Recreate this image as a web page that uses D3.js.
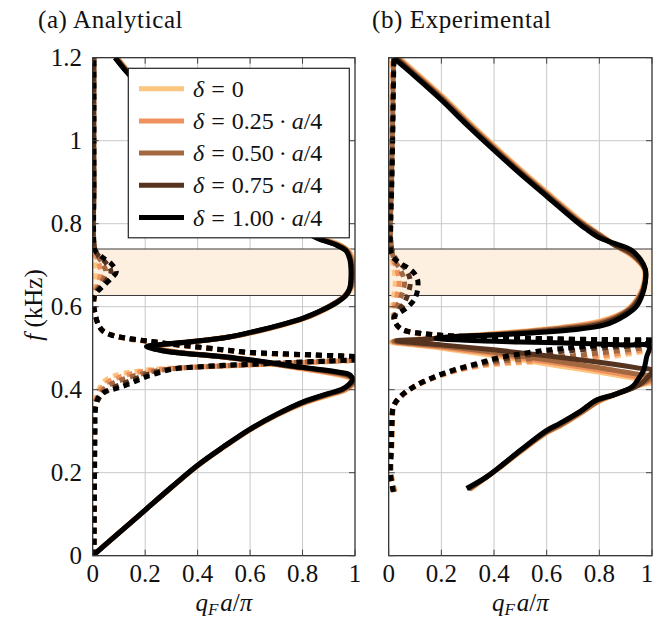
<!DOCTYPE html>
<html><head><meta charset="utf-8">
<script src="https://cdn.jsdelivr.net/npm/d3@7"></script>
<style>body{margin:0;background:#fff}svg{display:block}text{font-family:"Liberation Serif","Times New Roman",serif;fill:#111}</style>
</head><body><svg id="c" width="655" height="620"></svg>
<script>
// ---------------- data ----------------
const deltaLabels = ["0", "0.25", "0.50", "0.75", "1.00"];
const deltaColors = ["#fdc680", "#ef915e", "#a3683f", "#56331f", "#000000"];
const xTicks = [0, 0.2, 0.4, 0.6, 0.8, 1];
const xTickLabels = ["0", "0.2", "0.4", "0.6", "0.8", "1"];
const yTicks = [0, 0.2, 0.4, 0.6, 0.8, 1, 1.2];
const yTickLabels = ["0", "0.2", "0.4", "0.6", "0.8", "1", "1.2"];
const bandGap = [0.627, 0.739];
const panelTitles = ["(a) Analytical", "(b) Experimental"];

// Panel (a) analytical: solid (real part) per delta
const anaSolid0 = [[0,0],[0.1,0.055],[0.2,0.11],[0.3,0.164],[0.4,0.216],[0.5,0.262],[0.6,0.303],[0.7,0.338],[0.8,0.366],[0.9,0.386],[0.96,0.398],[0.99,0.41],[1,0.42],[0.97,0.43],[0.9,0.44],[0.8,0.45],[0.7,0.46],[0.58,0.472],[0.45,0.482],[0.33,0.49],[0.26,0.498],[0.23,0.505],[0.3,0.511],[0.42,0.519],[0.55,0.53],[0.66,0.545],[0.76,0.562],[0.85,0.582],[0.92,0.605],[0.97,0.63],[0.995,0.655],[1,0.68],[0.995,0.71],[0.975,0.735],[0.94,0.75],[0.86,0.768],[0.76,0.803],[0.66,0.85],[0.51,0.928],[0.36,1.018],[0.21,1.116],[0.14,1.164],[0.095,1.2]];
const anaSolid1 = [[0,0],[0.1,0.055],[0.2,0.11],[0.3,0.164],[0.4,0.217],[0.5,0.262],[0.6,0.304],[0.7,0.339],[0.8,0.367],[0.9,0.388],[0.96,0.399],[0.99,0.412],[1,0.422],[0.97,0.432],[0.9,0.441],[0.8,0.451],[0.7,0.461],[0.57,0.473],[0.44,0.483],[0.32,0.49],[0.25,0.498],[0.22,0.505],[0.29,0.51],[0.41,0.518],[0.54,0.529],[0.65,0.544],[0.75,0.561],[0.84,0.58],[0.91,0.604],[0.965,0.629],[0.99,0.655],[0.995,0.68],[0.99,0.712],[0.972,0.735],[0.938,0.749],[0.858,0.767],[0.757,0.804],[0.657,0.851],[0.507,0.929],[0.357,1.019],[0.207,1.117],[0.137,1.164],[0.092,1.2]];
const anaSolid2 = [[0,0],[0.1,0.055],[0.2,0.11],[0.3,0.165],[0.4,0.217],[0.5,0.262],[0.6,0.304],[0.7,0.339],[0.8,0.368],[0.9,0.389],[0.955,0.4],[0.985,0.412],[0.997,0.423],[0.975,0.433],[0.92,0.441],[0.82,0.451],[0.72,0.461],[0.57,0.474],[0.43,0.483],[0.31,0.49],[0.245,0.497],[0.215,0.504],[0.28,0.51],[0.4,0.517],[0.53,0.528],[0.64,0.543],[0.74,0.56],[0.83,0.578],[0.9,0.6],[0.96,0.626],[0.987,0.652],[0.99,0.68],[0.985,0.713],[0.97,0.735],[0.935,0.749],[0.855,0.767],[0.755,0.804],[0.655,0.851],[0.505,0.929],[0.355,1.019],[0.205,1.117],[0.135,1.165],[0.09,1.2]];
const anaSolid3 = [[0,0],[0.1,0.055],[0.2,0.11],[0.3,0.165],[0.4,0.218],[0.5,0.263],[0.6,0.305],[0.7,0.34],[0.8,0.369],[0.9,0.39],[0.952,0.4],[0.98,0.412],[0.993,0.424],[0.978,0.434],[0.93,0.442],[0.84,0.45],[0.75,0.457],[0.62,0.469],[0.48,0.48],[0.35,0.488],[0.26,0.496],[0.21,0.504],[0.27,0.509],[0.39,0.516],[0.52,0.527],[0.63,0.542],[0.73,0.558],[0.81,0.574],[0.88,0.594],[0.94,0.615],[0.975,0.635],[0.987,0.68],[0.982,0.714],[0.967,0.735],[0.932,0.748],[0.852,0.767],[0.752,0.805],[0.652,0.852],[0.502,0.93],[0.352,1.02],[0.202,1.118],[0.132,1.165],[0.087,1.2]];
const anaSolid4 = [[0,0],[0.1,0.055],[0.2,0.11],[0.3,0.165],[0.4,0.218],[0.5,0.263],[0.6,0.305],[0.7,0.34],[0.8,0.37],[0.9,0.391],[0.95,0.401],[0.975,0.412],[0.99,0.425],[0.98,0.436],[0.94,0.442],[0.85,0.45],[0.77,0.456],[0.68,0.465],[0.55,0.476],[0.42,0.484],[0.3,0.49],[0.24,0.497],[0.205,0.504],[0.26,0.509],[0.38,0.516],[0.52,0.527],[0.62,0.541],[0.72,0.557],[0.8,0.572],[0.87,0.59],[0.93,0.61],[0.965,0.627],[0.98,0.645],[0.985,0.68],[0.98,0.715],[0.965,0.735],[0.93,0.748],[0.85,0.767],[0.75,0.805],[0.65,0.852],[0.5,0.93],[0.35,1.02],[0.2,1.118],[0.13,1.165],[0.085,1.2]];

// Panel (a) analytical: dotted (imaginary part), lower branch
const anaDotLow0 = [[0.005,0],[0.006,0.1],[0.007,0.2],[0.008,0.3],[0.01,0.37],[0.02,0.395],[0.04,0.418],[0.08,0.433],[0.15,0.443],[0.25,0.45],[0.4,0.455],[0.55,0.458],[0.7,0.462],[0.85,0.466],[1,0.47]];
const anaDotLow1 = [[0.005,0],[0.006,0.1],[0.007,0.2],[0.008,0.3],[0.01,0.365],[0.022,0.392],[0.05,0.415],[0.1,0.43],[0.18,0.443],[0.3,0.451],[0.45,0.456],[0.6,0.46],[0.75,0.464],[0.9,0.468],[1,0.471]];
const anaDotLow2 = [[0.005,0],[0.006,0.1],[0.007,0.2],[0.008,0.3],[0.01,0.36],[0.025,0.388],[0.06,0.41],[0.12,0.426],[0.2,0.44],[0.3,0.45],[0.45,0.456],[0.6,0.46],[0.75,0.465],[0.9,0.469],[1,0.471]];
const anaDotLow3 = [[0.005,0],[0.006,0.1],[0.007,0.2],[0.008,0.3],[0.01,0.355],[0.03,0.385],[0.07,0.402],[0.13,0.418],[0.2,0.435],[0.3,0.45],[0.45,0.456],[0.6,0.461],[0.75,0.465],[0.9,0.469],[1,0.472]];
const anaDotLow4 = [[0.005,0],[0.006,0.1],[0.007,0.2],[0.008,0.3],[0.01,0.35],[0.018,0.377],[0.04,0.393],[0.09,0.403],[0.14,0.414],[0.2,0.43],[0.3,0.449],[0.4,0.455],[0.5,0.459],[0.6,0.461],[0.7,0.464],[0.8,0.467],[0.9,0.469],[1,0.472]];

// Panel (a) analytical: dotted, upper branch
const anaDotUp0 = [[1,0.478],[0.84,0.482],[0.7,0.485],[0.59,0.489],[0.5,0.495],[0.4,0.502],[0.3,0.509],[0.2,0.517],[0.12,0.524],[0.07,0.532],[0.035,0.545],[0.018,0.562],[0.008,0.585],[0.004,0.61],[0.005,0.635],[0.01,0.66],[0.012,0.684],[0.01,0.71],[0.005,0.735],[0.004,0.9],[0.004,1.2]];
const anaDotUp1 = [[1,0.479],[0.84,0.483],[0.7,0.486],[0.59,0.489],[0.5,0.495],[0.4,0.502],[0.3,0.509],[0.2,0.517],[0.12,0.524],[0.072,0.532],[0.037,0.543],[0.02,0.559],[0.009,0.583],[0.004,0.608],[0.008,0.635],[0.022,0.658],[0.03,0.684],[0.022,0.708],[0.008,0.732],[0.004,0.9],[0.004,1.2]];
const anaDotUp2 = [[1,0.479],[0.84,0.483],[0.7,0.486],[0.59,0.49],[0.5,0.496],[0.4,0.503],[0.3,0.51],[0.2,0.518],[0.12,0.525],[0.073,0.532],[0.038,0.542],[0.021,0.557],[0.01,0.582],[0.004,0.605],[0.01,0.633],[0.032,0.657],[0.05,0.684],[0.035,0.707],[0.01,0.733],[0.005,0.9],[0.005,1.2]];
const anaDotUp3 = [[1,0.48],[0.84,0.484],[0.7,0.487],[0.59,0.49],[0.5,0.496],[0.4,0.503],[0.3,0.51],[0.2,0.518],[0.12,0.525],[0.074,0.531],[0.039,0.541],[0.022,0.556],[0.01,0.58],[0.004,0.602],[0.01,0.632],[0.042,0.656],[0.07,0.684],[0.05,0.706],[0.012,0.733],[0.005,0.9],[0.005,1.2]];
const anaDotUp4 = [[1,0.48],[0.84,0.484],[0.7,0.487],[0.59,0.49],[0.5,0.496],[0.4,0.503],[0.3,0.51],[0.2,0.518],[0.12,0.525],[0.075,0.531],[0.04,0.541],[0.022,0.556],[0.01,0.58],[0.005,0.6],[0.004,0.618],[0.012,0.632],[0.035,0.647],[0.065,0.665],[0.09,0.684],[0.07,0.704],[0.035,0.72],[0.01,0.735],[0.005,0.75],[0.005,0.9],[0.005,1.05],[0.005,1.2]];

// Panel (b) experimental: solid per delta
const expSolid0 = [[0.04,1.2],[0.12,1.155],[0.22,1.098],[0.32,1.036],[0.42,0.977],[0.52,0.92],[0.62,0.866],[0.72,0.812],[0.8,0.775],[0.87,0.745],[0.93,0.72],[0.97,0.69],[0.97,0.66],[0.95,0.625],[0.9,0.59],[0.8,0.565],[0.65,0.55],[0.45,0.538],[0.25,0.528],[0.1,0.52],[0.01,0.515],[0.2,0.5],[0.4,0.482],[0.6,0.462],[0.8,0.442],[0.95,0.425],[1,0.418],[0.95,0.41],[0.87,0.39],[0.8,0.372],[0.73,0.343],[0.65,0.312],[0.6,0.296],[0.5,0.25],[0.43,0.216],[0.37,0.188],[0.31,0.16]];
const expSolid1 = [[0.035,1.2],[0.115,1.155],[0.215,1.098],[0.315,1.036],[0.415,0.977],[0.515,0.92],[0.615,0.866],[0.715,0.812],[0.795,0.776],[0.865,0.746],[0.93,0.721],[0.972,0.69],[0.972,0.66],[0.952,0.627],[0.905,0.591],[0.805,0.564],[0.655,0.549],[0.455,0.537],[0.255,0.527],[0.1,0.52],[0.015,0.516],[0.2,0.502],[0.4,0.486],[0.6,0.467],[0.8,0.447],[0.95,0.43],[1,0.424],[0.955,0.412],[0.87,0.391],[0.8,0.373],[0.73,0.344],[0.65,0.313],[0.6,0.297],[0.5,0.251],[0.43,0.217],[0.37,0.189],[0.308,0.16]];
const expSolid2 = [[0.03,1.2],[0.11,1.155],[0.21,1.098],[0.31,1.036],[0.41,0.977],[0.51,0.92],[0.61,0.866],[0.71,0.812],[0.79,0.777],[0.86,0.748],[0.925,0.725],[0.973,0.69],[0.973,0.66],[0.957,0.628],[0.91,0.592],[0.81,0.562],[0.66,0.548],[0.46,0.536],[0.26,0.527],[0.1,0.52],[0.02,0.517],[0.2,0.505],[0.4,0.49],[0.6,0.472],[0.8,0.453],[0.95,0.437],[1,0.432],[0.96,0.414],[0.87,0.391],[0.8,0.374],[0.73,0.345],[0.65,0.314],[0.6,0.298],[0.5,0.252],[0.43,0.217],[0.37,0.189],[0.305,0.16]];
const expSolid3 = [[0.025,1.2],[0.105,1.155],[0.205,1.098],[0.305,1.036],[0.405,0.977],[0.505,0.92],[0.605,0.866],[0.705,0.812],[0.785,0.777],[0.855,0.75],[0.92,0.73],[0.974,0.69],[0.974,0.66],[0.96,0.63],[0.92,0.594],[0.815,0.56],[0.67,0.546],[0.46,0.535],[0.26,0.527],[0.12,0.521],[0.03,0.518],[0.2,0.508],[0.4,0.496],[0.6,0.482],[0.8,0.466],[0.95,0.452],[1,0.447],[0.965,0.418],[0.93,0.405],[0.86,0.389],[0.79,0.375],[0.727,0.347],[0.65,0.317],[0.6,0.3],[0.5,0.253],[0.43,0.218],[0.372,0.19],[0.3,0.161]];
const expSolid4 = [[0.017,1.2],[0.1,1.155],[0.2,1.098],[0.3,1.036],[0.4,0.977],[0.5,0.92],[0.6,0.866],[0.7,0.812],[0.75,0.787],[0.8,0.766],[0.86,0.752],[0.92,0.737],[0.955,0.715],[0.975,0.69],[0.975,0.66],[0.965,0.632],[0.94,0.6],[0.9,0.58],[0.82,0.556],[0.69,0.544],[0.44,0.533],[0.25,0.528],[0.18,0.524],[0.3,0.519],[0.5,0.515],[0.7,0.512],[0.9,0.508],[0.99,0.505],[0.98,0.48],[0.968,0.447],[0.945,0.423],[0.925,0.407],[0.853,0.387],[0.79,0.375],[0.727,0.347],[0.65,0.319],[0.6,0.302],[0.5,0.254],[0.43,0.218],[0.372,0.19],[0.296,0.162]];

// Panel (b) experimental: dotted, lower branch
const expDotLow0 = [[0.025,0.154],[0.01,0.198],[0.012,0.263],[0.015,0.32],[0.02,0.36],[0.05,0.385],[0.1,0.408],[0.18,0.43],[0.26,0.446],[0.35,0.457],[0.45,0.463],[0.55,0.466],[0.7,0.471],[0.85,0.48],[1,0.495]];
const expDotLow1 = [[0.023,0.154],[0.009,0.198],[0.011,0.263],[0.014,0.32],[0.019,0.36],[0.048,0.384],[0.098,0.408],[0.177,0.43],[0.255,0.446],[0.345,0.458],[0.44,0.465],[0.55,0.469],[0.7,0.475],[0.85,0.485],[1,0.499]];
const expDotLow2 = [[0.021,0.154],[0.008,0.198],[0.011,0.263],[0.013,0.32],[0.019,0.36],[0.046,0.384],[0.097,0.407],[0.175,0.43],[0.252,0.447],[0.34,0.46],[0.43,0.469],[0.55,0.475],[0.7,0.482],[0.85,0.492],[1,0.503]];
const expDotLow3 = [[0.019,0.154],[0.007,0.198],[0.01,0.263],[0.012,0.32],[0.018,0.36],[0.045,0.383],[0.095,0.407],[0.172,0.43],[0.248,0.447],[0.335,0.461],[0.42,0.473],[0.56,0.486],[0.72,0.496],[0.86,0.503],[1,0.508]];
const expDotLow4 = [[0.017,0.154],[0.006,0.198],[0.01,0.263],[0.012,0.32],[0.018,0.36],[0.043,0.383],[0.094,0.407],[0.17,0.43],[0.245,0.447],[0.33,0.462],[0.41,0.476],[0.56,0.492],[0.75,0.504],[1,0.512]];

// Panel (b) experimental: dotted, upper branch
const expDotUp0 = [[1,0.516],[0.8,0.518],[0.6,0.52],[0.45,0.522],[0.3,0.526],[0.19,0.53],[0.11,0.535],[0.06,0.542],[0.035,0.552],[0.02,0.57],[0.015,0.6],[0.02,0.63],[0.025,0.66],[0.02,0.69],[0.012,0.72],[0.008,0.76],[0.01,0.9],[0.013,1.05],[0.015,1.2]];
const expDotUp1 = [[1,0.517],[0.8,0.519],[0.6,0.521],[0.45,0.523],[0.3,0.527],[0.19,0.531],[0.112,0.535],[0.062,0.542],[0.037,0.551],[0.022,0.567],[0.02,0.595],[0.032,0.627],[0.04,0.66],[0.032,0.688],[0.015,0.718],[0.008,0.76],[0.01,0.9],[0.014,1.05],[0.016,1.2]];
const expDotUp2 = [[1,0.518],[0.8,0.52],[0.6,0.522],[0.45,0.524],[0.3,0.527],[0.195,0.531],[0.115,0.536],[0.065,0.542],[0.04,0.55],[0.023,0.565],[0.025,0.59],[0.045,0.62],[0.06,0.66],[0.045,0.688],[0.02,0.715],[0.008,0.76],[0.011,0.9],[0.015,1.05],[0.018,1.2]];
const expDotUp3 = [[1,0.519],[0.8,0.52],[0.6,0.522],[0.45,0.524],[0.31,0.528],[0.2,0.531],[0.118,0.536],[0.068,0.541],[0.042,0.549],[0.024,0.564],[0.028,0.585],[0.06,0.61],[0.082,0.66],[0.065,0.69],[0.03,0.712],[0.008,0.75],[0.011,0.9],[0.016,1.05],[0.019,1.2]];
const expDotUp4 = [[1,0.52],[0.8,0.521],[0.6,0.523],[0.45,0.525],[0.31,0.528],[0.2,0.531],[0.12,0.536],[0.07,0.541],[0.043,0.548],[0.025,0.562],[0.02,0.576],[0.04,0.585],[0.068,0.597],[0.095,0.615],[0.108,0.635],[0.11,0.664],[0.095,0.682],[0.07,0.695],[0.04,0.706],[0.02,0.716],[0.008,0.735],[0.008,0.8],[0.012,0.9],[0.015,1.0],[0.017,1.1],[0.02,1.2]];

const anaSolid = [anaSolid0, anaSolid1, anaSolid2, anaSolid3, anaSolid4];
const anaDotted = [[anaDotLow0, anaDotUp0], [anaDotLow1, anaDotUp1], [anaDotLow2, anaDotUp2], [anaDotLow3, anaDotUp3], [anaDotLow4, anaDotUp4]];
const expSolid = [expSolid0, expSolid1, expSolid2, expSolid3, expSolid4];
const expDotted = [[expDotLow0, expDotUp0], [expDotLow1, expDotUp1], [expDotLow2, expDotUp2], [expDotLow3, expDotUp3], [expDotLow4, expDotUp4]];

// ---------------- drawing ----------------
const svg = d3.select("#c");
const W = 655;
const yTop = 57.7, yBot = 555.7;
const panels = [
  {x0: 92.7, x1: 355, title: panelTitles[0], solid: anaSolid, dotted: anaDotted, yLabels: true, tx: 38},
  {x0: 388.7, x1: 652, title: panelTitles[1], solid: expSolid, dotted: expDotted, yLabels: false, tx: 372}
];
const y = d3.scaleLinear().domain([0, 1.2]).range([yBot, yTop]);

panels.forEach((p, pi) => {
  const x = d3.scaleLinear().domain([0, 1]).range([p.x0, p.x1]);
  const g = svg.append("g");
  const cid = "clip" + pi;
  svg.append("defs").append("clipPath").attr("id", cid)
    .append("rect").attr("x", p.x0).attr("y", yTop).attr("width", p.x1 - p.x0).attr("height", yBot - yTop);

  // grid
  g.selectAll(".gx").data(xTicks.slice(1, -1)).join("line")
    .attr("x1", d => x(d)).attr("x2", d => x(d)).attr("y1", yTop).attr("y2", yBot)
    .attr("stroke", "#c9c9c9").attr("stroke-width", 1);
  g.selectAll(".gy").data(yTicks.slice(1, -1)).join("line")
    .attr("y1", d => y(d)).attr("y2", d => y(d)).attr("x1", p.x0).attr("x2", p.x1)
    .attr("stroke", "#c9c9c9").attr("stroke-width", 1);

  // band gap
  g.append("rect").attr("x", p.x0).attr("width", p.x1 - p.x0)
    .attr("y", y(bandGap[1])).attr("height", y(bandGap[0]) - y(bandGap[1]))
    .attr("fill", "#fdf0e1");
  bandGap.forEach(v => g.append("line").attr("x1", p.x0).attr("x2", p.x1)
    .attr("y1", y(v)).attr("y2", y(v)).attr("stroke", "#3a3a3a").attr("stroke-width", 1));

  // curves
  const line = d3.line().x(d => x(d[0])).y(d => y(d[1])).curve(d3.curveCatmullRom.alpha(0.5));
  const cg = g.append("g").attr("clip-path", `url(#${cid})`);
  for (let k = 0; k < 5; k++) {
    cg.append("path").attr("d", line(p.solid[k])).attr("fill", "none")
      .attr("stroke", deltaColors[k]).attr("stroke-width", 5).attr("stroke-linejoin", "round");
    p.dotted[k].forEach(seg => cg.append("path").attr("d", line(seg)).attr("fill", "none")
      .attr("stroke", deltaColors[k]).attr("stroke-width", 5).attr("stroke-dasharray", "6,5"));
  }

  // axes box
  g.append("rect").attr("x", p.x0).attr("y", yTop).attr("width", p.x1 - p.x0).attr("height", yBot - yTop)
    .attr("fill", "none").attr("stroke", "#222").attr("stroke-width", 1.2);
  // ticks (inside, all sides)
  const tl = 6;
  xTicks.forEach(t => {
    g.append("line").attr("x1", x(t)).attr("x2", x(t)).attr("y1", yBot).attr("y2", yBot - tl).attr("stroke", "#444");
    g.append("line").attr("x1", x(t)).attr("x2", x(t)).attr("y1", yTop).attr("y2", yTop + tl).attr("stroke", "#444");
  });
  yTicks.forEach(t => {
    g.append("line").attr("y1", y(t)).attr("y2", y(t)).attr("x1", p.x0).attr("x2", p.x0 + tl).attr("stroke", "#444");
    g.append("line").attr("y1", y(t)).attr("y2", y(t)).attr("x1", p.x1).attr("x2", p.x1 - tl).attr("stroke", "#444");
  });

  // tick labels
  g.selectAll(".xl").data(xTicks).join("text")
    .attr("x", d => Math.min(x(d), W - 8)).attr("y", 581.5).attr("text-anchor", "middle")
    .attr("font-size", 25).text((d, i) => xTickLabels[i]);
  if (p.yLabels) {
    g.selectAll(".yl").data(yTicks).join("text")
      .attr("x", 82).attr("y", d => y(d) + 8).attr("text-anchor", "end")
      .attr("font-size", 25).text((d, i) => yTickLabels[i]);
  }

  // title
  g.append("text").attr("x", p.tx).attr("y", 28).attr("font-size", 25).attr("letter-spacing", 0.6).text(p.title);

  // x label
  const xl = g.append("text").attr("x", (p.x0 + p.x1) / 2).attr("y", 611).attr("text-anchor", "middle").attr("font-size", 25);
  xl.append("tspan").attr("font-style", "italic").text("q");
  xl.append("tspan").attr("font-style", "italic").attr("font-size", 17).attr("dy", 4).text("F");
  xl.append("tspan").attr("font-style", "italic").attr("dy", -4).attr("dx", 2).text("a");
  xl.append("tspan").text("/");
  xl.append("tspan").attr("font-style", "italic").text("π");
});

// y label
const yl = svg.append("text").attr("transform", "translate(42,305) rotate(-90)")
  .attr("text-anchor", "middle").attr("font-size", 25);
yl.append("tspan").attr("font-style", "italic").text("f");
yl.append("tspan").text(" (kHz)");

// legend
const lg = svg.append("g");
lg.append("rect").attr("x", 128.3).attr("y", 68.3).attr("width", 221).attr("height", 169.5)
  .attr("fill", "#fff").attr("stroke", "#222").attr("stroke-width", 1.2);
deltaLabels.forEach((lab, i) => {
  const cy = 88.7 + i * 32.2;
  lg.append("line").attr("x1", 139).attr("x2", 184).attr("y1", cy).attr("y2", cy)
    .attr("stroke", deltaColors[i]).attr("stroke-width", 5);
  const t = lg.append("text").attr("x", 193).attr("y", cy + 8).attr("font-size", 24);
  t.append("tspan").attr("font-style", "italic").text("δ");
  t.append("tspan").attr("dx", 7).text("=");
  t.append("tspan").attr("dx", 7).text(lab);
  if (i > 0) {
    t.append("tspan").attr("dx", 5).text("·");
    t.append("tspan").attr("dx", 5).attr("font-style", "italic").text("a");
    t.append("tspan").text("/4");
  }
});
</script></body></html>
